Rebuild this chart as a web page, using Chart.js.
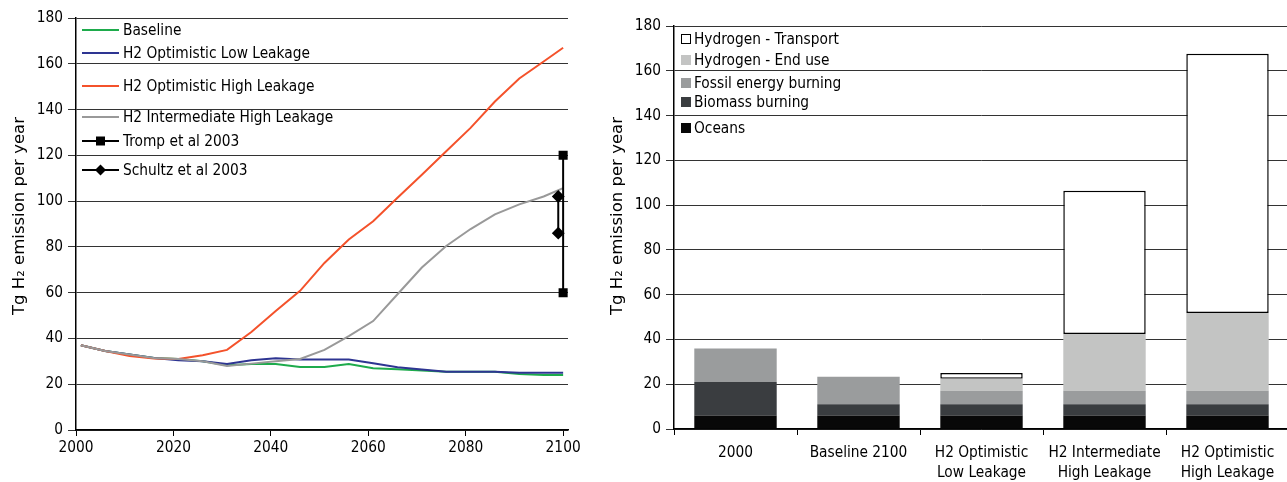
<!DOCTYPE html>
<html>
<head>
<meta charset="utf-8">
<script src="https://cdn.jsdelivr.net/npm/chart.js@4.4.1/dist/chart.umd.min.js"></script>
<style>
  html, body { margin: 0; padding: 0; background: #fff; overflow: hidden; width: 1287px; height: 482px; }
  #c1 { position: absolute; left: 0; top: 0; }
  #c2 { position: absolute; left: 600px; top: 0; }
</style>
</head>
<body>
<canvas id="c1" width="600" height="482"></canvas>
<canvas id="c2" width="700" height="482"></canvas>
<script>
// ---------- Left chart data ----------
const years = [2001, 2006, 2011, 2016, 2021, 2026, 2031, 2036, 2041, 2046, 2051, 2056, 2061, 2066, 2071, 2076, 2081, 2086, 2091, 2096, 2100];
const baseline      = [37, 34.5, 33, 31.5, 31, 30, 28.3, 28.8, 28.8, 27.5, 27.5, 28.8, 27, 26.5, 26, 25.5, 25.5, 25.5, 24.5, 24, 24];
const optLowLeak    = [37, 34.5, 33, 31.5, 30.5, 30, 28.8, 30.5, 31.3, 30.8, 30.8, 30.8, 29.2, 27.4, 26.4, 25.4, 25.4, 25.4, 25, 25, 25];
const optHighLeak   = [37, 34.5, 32.3, 31.2, 31, 32.7, 35, 42.8, 52, 60.8, 73, 83.2, 91.2, 101.5, 111.5, 121.8, 132, 143.5, 153.6, 161, 167];
const interHighLeak = [37, 34.5, 33, 31.5, 31, 30, 28, 29, 30, 31, 35, 41, 47.6, 59.3, 71, 80.4, 87.8, 94.2, 98.6, 102, 105.7];
const trompX = [2100, 2100];
const trompY = [60, 120];
const schultzX = [2099, 2099];
const schultzY = [86, 102];
const yearTicks = [2000, 2020, 2040, 2060, 2080, 2100];
const emissionTicks = [0, 20, 40, 60, 80, 100, 120, 140, 160, 180];

// ---------- Right chart data ----------
const categories = ['2000', 'Baseline 2100', ['H2 Optimistic', 'Low Leakage'], ['H2 Intermediate', 'High Leakage'], ['H2 Optimistic', 'High Leakage']];
const oceans    = [6, 6, 6, 6, 6];
const biomass   = [15, 5, 5, 5, 5];
const fossil    = [15, 12.3, 6.1, 6.1, 6.1];
const endUse    = [null, null, 5.4, 25.3, 34.7];
const transport = [null, null, 2.5, 64, 115.8];

const FONT = "'DejaVu Sans Condensed', 'Liberation Sans', sans-serif";
const TITLE_FONT = "'DejaVu Sans', sans-serif";
const FS = 15.3;
const yTitle = 'Tg H\u2082 emission per year';

const pts = (xs, ys) => xs.map((x, i) => ({ x: x, y: ys[i] }));

// Legend drawn inside the plot area, labels taken from the datasets
const legendPlugin = {
  id: 'customLegend',
  afterDraw(chart, args, opts) {
    if (!opts || !opts.items) return;
    const ctx = chart.ctx;
    ctx.save();
    ctx.font = opts.fontSize + 'px ' + FONT;
    ctx.textBaseline = 'middle';
    ctx.textAlign = 'left';
    opts.items.forEach(it => {
      const ds = chart.data.datasets[it.ds];
      const y = it.y;
      if (opts.kind === 'line') {
        ctx.strokeStyle = ds.borderColor;
        ctx.lineWidth = 2;
        ctx.beginPath();
        ctx.moveTo(opts.x, y);
        ctx.lineTo(opts.x + opts.w, y);
        ctx.stroke();
        const cx = opts.x + opts.w / 2;
        ctx.fillStyle = '#000';
        if (ds.pointStyle === 'rect') {
          ctx.fillRect(cx - 4.5, y - 4.5, 9, 9);
        } else if (ds.pointStyle === 'rectRot') {
          ctx.beginPath();
          ctx.moveTo(cx, y - 5.5); ctx.lineTo(cx + 5.5, y); ctx.lineTo(cx, y + 5.5); ctx.lineTo(cx - 5.5, y);
          ctx.closePath(); ctx.fill();
        }
      } else {
        const s = opts.box;
        ctx.fillStyle = ds.backgroundColor;
        ctx.fillRect(opts.x, y - s / 2, s, s);
        if (ds.borderWidth) {
          ctx.strokeStyle = '#000';
          ctx.lineWidth = 1;
          ctx.strokeRect(opts.x + 0.5, y - s / 2 + 0.5, s - 1, s - 1);
        }
      }
      ctx.fillStyle = '#000';
      ctx.fillText(ds.label, opts.textX, y + 1);
    });
    ctx.restore();
  }
};

// Vertical axis title placed like the original
const yTitlePlugin = {
  id: 'yTitle',
  afterDraw(chart, args, opts) {
    if (!opts || !opts.text) return;
    const ctx = chart.ctx;
    ctx.save();
    ctx.translate(opts.x, opts.y);
    ctx.rotate(-Math.PI / 2);
    ctx.font = opts.fontSize + 'px ' + TITLE_FONT;
    ctx.fillStyle = '#000';
    ctx.textAlign = 'center';
    ctx.textBaseline = 'middle';
    ctx.fillText(opts.text, 0, 0);
    ctx.restore();
  }
};

// ---------- Left chart ----------
new Chart(document.getElementById('c1'), {
  type: 'line',
  data: {
    datasets: [
      { label: 'Baseline', data: pts(years, baseline), borderColor: '#1eab4c', borderWidth: 2, pointRadius: 0, order: 5 },
      { label: 'H2 Optimistic Low Leakage', data: pts(years, optLowLeak), borderColor: '#2e3592', borderWidth: 2, pointRadius: 0, order: 4 },
      { label: 'H2 Optimistic High Leakage', data: pts(years, optHighLeak), borderColor: '#f4522b', borderWidth: 2, pointRadius: 0, order: 3 },
      { label: 'H2 Intermediate High Leakage', data: pts(years, interHighLeak), borderColor: '#999999', borderWidth: 2, pointRadius: 0, order: 2 },
      { label: 'Tromp et al 2003', data: pts(trompX, trompY), borderColor: '#000', backgroundColor: '#000', borderWidth: 2, pointStyle: 'rect', pointRadius: 5, order: 1 },
      { label: 'Schultz et al 2003', data: pts(schultzX, schultzY), borderColor: '#000', backgroundColor: '#000', borderWidth: 2, pointStyle: 'rectRot', pointRadius: 5, order: 0 }
    ]
  },
  options: {
    responsive: false,
    animation: false,
    layout: { padding: { top: 18, right: 32, bottom: 0, left: 0 } },
    plugins: {
      legend: { display: false },
      tooltip: { enabled: false },
      yTitle: { text: yTitle, x: 20, y: 216, fontSize: 16.5 },
      customLegend: {
        kind: 'line', x: 82, w: 37, textX: 123, fontSize: FS,
        items: [
          { ds: 0, y: 30 }, { ds: 1, y: 53 }, { ds: 2, y: 86 },
          { ds: 3, y: 117 }, { ds: 4, y: 141 }, { ds: 5, y: 170 }
        ]
      }
    },
    scales: {
      x: {
        type: 'linear', min: 2000, max: 2101,
        afterBuildTicks: s => { s.ticks = yearTicks.map(v => ({ value: v })); },
        afterFit: s => { s.height = 52; },
        grid: { drawOnChartArea: false, drawTicks: true, tickLength: 6, color: '#000', lineWidth: 1 },
        border: { color: '#000', width: 1.5 },
        ticks: { color: '#000', font: { family: FONT, size: FS }, padding: 3, maxRotation: 0, callback: v => String(v) }
      },
      y: {
        min: 0, max: 180,
        afterBuildTicks: s => { s.ticks = emissionTicks.map(v => ({ value: v })); },
        afterFit: s => { s.width = 76; },
        grid: { color: '#333', lineWidth: 1, drawTicks: true, tickLength: 8 },
        border: { color: '#000', width: 1.5 },
        ticks: { color: '#000', font: { family: FONT, size: FS }, padding: 5 }
      }
    }
  },
  plugins: [legendPlugin, yTitlePlugin]
});

// ---------- Right chart ----------
new Chart(document.getElementById('c2'), {
  type: 'bar',
  data: {
    labels: categories,
    datasets: [
      { label: 'Oceans', data: oceans, backgroundColor: '#080808', borderWidth: 0 },
      { label: 'Biomass burning', data: biomass, backgroundColor: '#3a3d40', borderWidth: 0 },
      { label: 'Fossil energy burning', data: fossil, backgroundColor: '#9a9c9d', borderWidth: 0 },
      { label: 'Hydrogen - End use', data: endUse, backgroundColor: '#c3c4c3', borderWidth: 0 },
      { label: 'Hydrogen - Transport', data: transport, backgroundColor: '#ffffff', borderColor: '#000', borderWidth: 1.5, borderSkipped: false }
    ]
  },
  options: {
    responsive: false,
    animation: false,
    layout: { padding: { top: 26, right: 11, bottom: 0, left: 0 } },
    datasets: { bar: { barPercentage: 0.67, categoryPercentage: 1 } },
    plugins: {
      legend: { display: false },
      tooltip: { enabled: false },
      yTitle: { text: yTitle, x: 18, y: 216, fontSize: 16.5 },
      customLegend: {
        kind: 'box', x: 81, box: 10, textX: 94, fontSize: FS,
        items: [
          { ds: 4, y: 39 }, { ds: 3, y: 60 }, { ds: 2, y: 83 },
          { ds: 1, y: 102 }, { ds: 0, y: 128 }
        ]
      }
    },
    scales: {
      x: {
        stacked: true,
        afterFit: s => { s.height = 53; },
        grid: { drawOnChartArea: false, drawTicks: true, tickLength: 6, color: '#000', offset: true },
        border: { color: '#000', width: 1.5 },
        ticks: { color: '#000', font: { family: FONT, size: FS, lineHeight: 1.3 }, padding: 8, maxRotation: 0, autoSkip: false }
      },
      y: {
        stacked: true, min: 0, max: 180,
        afterBuildTicks: s => { s.ticks = emissionTicks.map(v => ({ value: v })); },
        afterFit: s => { s.width = 74; },
        grid: { color: '#333', lineWidth: 1, drawTicks: true, tickLength: 8 },
        border: { color: '#000', width: 1.5 },
        ticks: { color: '#000', font: { family: FONT, size: FS }, padding: 5 }
      }
    }
  },
  plugins: [legendPlugin, yTitlePlugin]
});
</script>
</body>
</html>
